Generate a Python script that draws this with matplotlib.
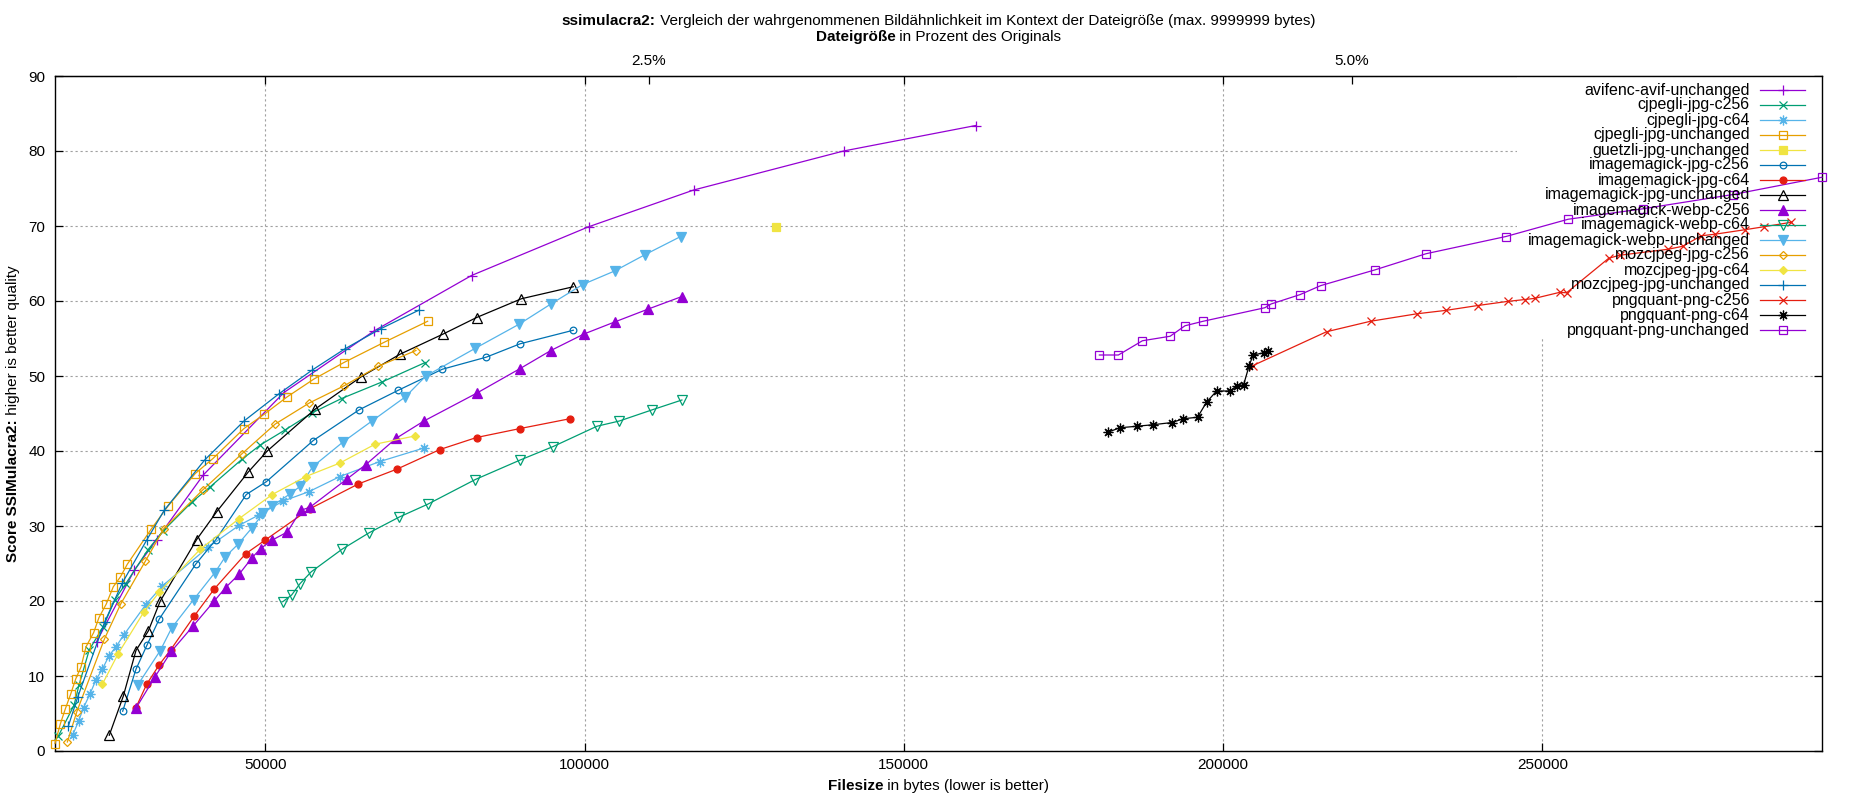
import matplotlib
matplotlib.use("Agg")
import matplotlib.pyplot as plt
from matplotlib.patches import Rectangle
from matplotlib.ticker import FuncFormatter
from matplotlib.transforms import IdentityTransform

# Filesize in bytes / SSIMulacra2 score
avif_x = [23600, 29490, 32990, 40290, 52930, 67020, 82300, 100650, 117100, 140570, 161270]
avif_y = [14.6, 24.1, 28.2, 36.8, 47.8, 56.0, 63.4, 69.9, 74.8, 80.0, 83.4]

cjpegli_c256_x = [17590, 20050, 20830, 22440, 24630, 26460, 28140, 31600, 33950, 38520, 41340,
                  46350, 49220, 53090, 57360, 61960, 68270, 75050]
cjpegli_c256_y = [2.0, 6.1, 8.8, 13.5, 16.6, 20.2, 22.3, 26.8, 29.3, 33.2, 35.2,
                  38.9, 40.8, 42.8, 45.1, 47.0, 49.2, 51.8]

cjpegli_c64_x = [19830, 20770, 21550, 22550, 23490, 24480, 25530, 26620, 27870, 31270, 33870,
                 41080, 45930, 49060, 52730, 56890, 61700, 67960, 74850]
cjpegli_c64_y = [2.1, 4.0, 5.8, 7.6, 9.5, 10.9, 12.7, 13.9, 15.5, 19.5, 22.0,
                 27.2, 30.1, 31.5, 33.3, 34.6, 36.6, 38.6, 40.4]

cjpegli_unch_x = [17070, 17900, 18680, 19530, 20310, 21140, 21930, 23130, 23960, 25100, 26200,
                  27300, 28390, 32150, 34810, 39040, 41810, 46670, 49840, 53400, 57630, 62320,
                  68630, 75430]
cjpegli_unch_y = [1.0, 3.6, 5.6, 7.6, 9.6, 11.2, 13.9, 15.8, 17.8, 19.6, 21.9,
                  23.2, 24.9, 29.6, 32.7, 37.0, 39.0, 43.0, 44.9, 47.2, 49.6, 51.8,
                  54.5, 57.3]

guetzli_x = [130040]
guetzli_y = [69.9]

im_jpg_c256_x = [27670, 29750, 31520, 33400, 39100, 42280, 47030, 50160, 57520, 64720, 70830,
                 77720, 84570, 89930, 98240]
im_jpg_c256_y = [5.3, 10.9, 14.2, 17.6, 24.9, 28.2, 34.2, 35.9, 41.4, 45.5, 48.1,
                 50.9, 52.5, 54.3, 56.1]

im_jpg_c64_x = [29750, 31430, 33400, 35190, 38880, 42010, 46930, 49950, 57000, 64560, 70670,
                77360, 83090, 89930, 97690]
im_jpg_c64_y = [5.8, 8.9, 11.5, 13.5, 18.0, 21.6, 26.3, 28.1, 32.3, 35.6, 37.6,
                40.2, 41.8, 43.0, 44.3]

im_jpg_unch_x = [25570, 27760, 29750, 31680, 33560, 39260, 42390, 47340, 50310, 57830, 65030,
                 71090, 77870, 83100, 90110, 98240]
im_jpg_unch_y = [2.1, 7.3, 13.4, 16.0, 20.0, 28.2, 31.9, 37.2, 40.0, 45.6, 49.9,
                 52.9, 55.6, 57.8, 60.3, 61.9]

im_webp_c256_x = [29750, 32730, 35300, 38730, 42010, 43800, 45930, 47960, 49280, 51050, 53450,
                  55590, 57000, 62840, 65770, 70510, 74850, 83090, 89930, 94730, 99910, 104710,
                  109890, 115250]
im_webp_c256_y = [5.7, 9.9, 13.3, 16.7, 20.0, 21.8, 23.6, 25.8, 27.0, 28.1, 29.2,
                  32.1, 32.5, 36.3, 38.2, 41.7, 44.0, 47.7, 51.0, 53.4, 55.6, 57.2,
                  58.9, 60.6]

im_webp_c64_x = [52730, 54130, 55430, 57210, 62020, 66270, 71000, 75430, 82900, 89930, 95100,
                 101940, 105450, 110630, 115250]
im_webp_c64_y = [19.9, 20.8, 22.3, 23.9, 26.9, 29.1, 31.2, 32.9, 36.2, 38.8, 40.6,
                 43.3, 44.0, 45.5, 46.8]

im_webp_unch_x = [30020, 33560, 35340, 38790, 42120, 43740, 45770, 47960, 49690, 51100, 53920,
                  55480, 57420, 62170, 66710, 71910, 75160, 82900, 89740, 94730, 99720, 104710,
                  109520, 115060]
im_webp_unch_y = [8.8, 13.4, 16.4, 20.2, 23.8, 25.9, 27.6, 29.8, 31.7, 32.7, 34.3,
                  35.3, 37.9, 41.2, 44.0, 47.2, 50.0, 53.7, 56.9, 59.6, 62.2, 64.0,
                  66.2, 68.6]

moz_c256_x = [19000, 20470, 24790, 27360, 31210, 34090, 40200, 46310, 51570, 56890, 62360,
              67700, 73600]
moz_c256_y = [1.2, 5.2, 14.9, 19.6, 25.3, 29.6, 34.8, 39.6, 43.6, 46.4, 48.7, 51.3, 53.4]

moz_c64_x = [24480, 26980, 30960, 33400, 39820, 45930, 51100, 56370, 61700, 67180, 73400]
moz_c64_y = [8.9, 13.0, 18.5, 21.2, 26.9, 31.0, 34.2, 36.6, 38.4, 40.9, 42.0]

moz_unch_x = [19150, 20630, 24850, 27610, 31480, 34180, 40510, 46670, 52100, 57360, 62430,
              68070, 74110]
moz_unch_y = [3.3, 7.2, 17.2, 22.4, 28.2, 32.1, 38.8, 44.0, 47.6, 50.8, 53.6, 56.3, 58.8]

pq_c256_x = [204700, 216200, 223100, 230400, 234900, 239900, 244600, 247300, 248800, 252700,
             253800, 260400, 262100, 269700, 272000, 274900, 277000, 281700, 284700, 289000]
pq_c256_y = [51.4, 55.9, 57.3, 58.3, 58.75, 59.4, 59.95, 60.2, 60.35, 61.15,
             61.1, 65.7, 66.1, 66.9, 67.3, 68.7, 68.9, 69.5, 69.9, 70.5]

pq_c64_x = [181960, 183840, 186500, 189000, 192030, 193750, 196000, 197410, 198980, 201110,
            202200, 203210, 204090, 204710, 206430, 207060]
pq_c64_y = [42.5, 43.1, 43.3, 43.5, 43.8, 44.3, 44.5, 46.5, 48.0, 48.0,
            48.7, 48.8, 51.4, 52.8, 53.1, 53.4]

pq_unch_x = [180630, 183610, 187370, 191710, 194040, 196890, 206540, 207510, 212050, 215290,
             223790, 231770, 244300, 254040, 265780, 279870, 293800]
pq_unch_y = [52.8, 52.8, 54.7, 55.3, 56.7, 57.3, 59.1, 59.6, 60.85, 62.05,
             64.15, 66.3, 68.6, 70.9, 72.3, 74.2, 76.5]

original_size = 4403300  # bytes, gives 2.5% / 5.0% on the top axis

labels = ["avifenc-avif-unchanged", "cjpegli-jpg-c256", "cjpegli-jpg-c64", "cjpegli-jpg-unchanged",
          "guetzli-jpg-unchanged", "imagemagick-jpg-c256", "imagemagick-jpg-c64",
          "imagemagick-jpg-unchanged", "imagemagick-webp-c256", "imagemagick-webp-c64",
          "imagemagick-webp-unchanged", "mozcjpeg-jpg-c256", "mozcjpeg-jpg-c64",
          "mozcjpeg-jpg-unchanged", "pngquant-png-c256", "pngquant-png-c64", "pngquant-png-unchanged"]
xs = [avif_x, cjpegli_c256_x, cjpegli_c64_x, cjpegli_unch_x, guetzli_x, im_jpg_c256_x, im_jpg_c64_x,
      im_jpg_unch_x, im_webp_c256_x, im_webp_c64_x, im_webp_unch_x, moz_c256_x, moz_c64_x,
      moz_unch_x, pq_c256_x, pq_c64_x, pq_unch_x]
ys = [avif_y, cjpegli_c256_y, cjpegli_c64_y, cjpegli_unch_y, guetzli_y, im_jpg_c256_y, im_jpg_c64_y,
      im_jpg_unch_y, im_webp_c256_y, im_webp_c64_y, im_webp_unch_y, moz_c256_y, moz_c64_y,
      moz_unch_y, pq_c256_y, pq_c64_y, pq_unch_y]

# gnuplot default colour cycle and point types
palette = ["#9400d3", "#009e73", "#56b4e9", "#e69f00", "#f0e442", "#0072b2", "#e51e10", "#000000"]
asterisk = (8, 2, 0)
point_types = [("+", True, 7), ("x", True, 6), (asterisk, True, 7), ("s", False, 5.5),
               ("s", True, 5.5), ("o", False, 4.8), ("o", True, 5), ("^", False, 6.5),
               ("^", True, 6.5), ("v", False, 6.5), ("v", True, 6.5), ("D", False, 4),
               ("D", True, 4)]

plt.rcParams["font.family"] = ["Liberation Sans", "DejaVu Sans"]
plt.rcParams["font.size"] = 11

W, H = 1850, 800
fig = plt.figure(figsize=(W / 100, H / 100), dpi=100)
L, R, T, B = 55, 1822, 76, 751
ax = fig.add_axes([L / W, 1 - B / H, (R - L) / W, (B - T) / H])

for i, (lab, x, y) in enumerate(zip(labels, xs, ys)):
    col = palette[i % 8]
    mk, filled, ms = point_types[i % 13]
    ax.plot(x, y, color=col, lw=0.9, marker=mk, ms=ms, mew=0.9,
            mfc=col if filled else "none", mec=col, zorder=3 + i, clip_on=False)

ax.set_xlim(17070, 293800)
ax.set_ylim(0, 90)
ax.set_xticks([50000, 100000, 150000, 200000, 250000])
ax.set_yticks(range(0, 91, 10))
ax.xaxis.set_major_formatter(FuncFormatter(lambda v, p: f"{int(v)}"))
ax.tick_params(direction="in", length=6, width=0.9, top=True, right=True, labelsize=11)
ax.tick_params(axis="x", pad=5)
ax.tick_params(axis="y", pad=7)
ax.set_axisbelow(True)
ax.grid(True, color="#a0a0a0", ls=(0, (2, 2.5)), lw=0.8)
for s in ax.spines.values():
    s.set_linewidth(1.0)

sec = ax.secondary_xaxis("top", functions=(lambda b: b / original_size * 100,
                                           lambda p: p * original_size / 100))
sec.set_xticks([2.5, 5.0])
sec.xaxis.set_major_formatter(FuncFormatter(lambda v, p: f"{v:.1f}%"))
sec.tick_params(direction="in", length=6, width=0.9, pad=6, labelsize=11)

# key area hides the grid (as gnuplot's opaque key)
kx0 = (1517 - L) / (R - L)
ky0 = (B - 338) / (B - T)
ax.add_patch(Rectangle((kx0, ky0), 1 - kx0, 1 - ky0, transform=ax.transAxes,
                       fc="white", ec="none", zorder=1.5))

for i, lab in enumerate(labels):
    col = palette[i % 8]
    mk, filled, ms = point_types[i % 13]
    yk = 1 - (90 + 15 * i) / H
    fig.text(1750 / W, yk, lab, ha="right", va="center", fontsize=11.5, zorder=30)
    ax.plot([1760 / W, 1805 / W], [yk, yk], transform=fig.transFigure, color=col, lw=0.9,
            clip_on=False, zorder=30)
    ax.plot([1782.5 / W], [yk], transform=fig.transFigure, color=col, marker=mk, ms=ms, mew=0.9,
            mfc=col if filled else "none", mec=col, clip_on=False, zorder=30)

renderer = fig.canvas.get_renderer()


def rich_text(cx, cy, parts, rotation=0):
    # pieces of text with different weights, centred on (cx, cy) in pixels
    objs = [fig.text(0, 0, s, fontweight=w, rotation=rotation, rotation_mode="anchor",
                     ha="left", va="center", transform=IdentityTransform(), fontsize=11)
            for s, w in parts]
    sizes = []
    for t in objs:
        bb = t.get_window_extent(renderer)
        sizes.append(bb.width if rotation == 0 else bb.height)
    pos = -sum(sizes) / 2
    for t, s in zip(objs, sizes):
        if rotation == 0:
            t.set_position((cx + pos, cy))
        else:
            t.set_position((cx, cy + pos))
        pos += s


mid = (L + R) / 2
rich_text(mid, H - 21, [("ssimulacra2:", "bold"),
                        (" Vergleich der wahrgenommenen Bildähnlichkeit im Kontext der Dateigröße (max. 9999999 bytes)", "normal")])
rich_text(mid, H - 37, [("Dateigröße", "bold"), (" in Prozent des Originals", "normal")])
rich_text(mid, H - 786, [("Filesize", "bold"), (" in bytes (lower is better)", "normal")])
rich_text(13, H - (T + B) / 2, [("Score SSIMulacra2:", "bold"), (" higher is better quality", "normal")],
          rotation=90)

fig.savefig("out.png", dpi=100)
